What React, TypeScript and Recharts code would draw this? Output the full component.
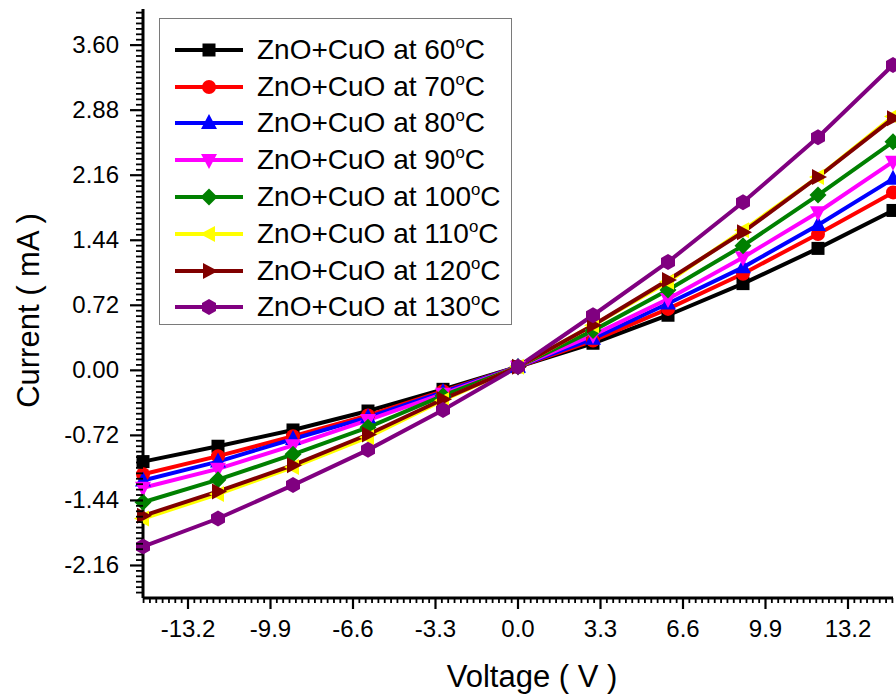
import React from 'react';
import { LineChart, Line, XAxis, YAxis, Legend } from 'recharts';

const VOLTAGE = [-15, -12, -9, -6, -3, 0, 3, 6, 9, 12, 15];

const I_60 = [-1.01, -0.84, -0.66, -0.45, -0.21, 0.04, 0.3, 0.61, 0.96, 1.35, 1.77];
const I_70 = [-1.15, -0.95, -0.73, -0.5, -0.23, 0.04, 0.33, 0.68, 1.07, 1.51, 1.97];
const I_80 = [-1.22, -1.01, -0.76, -0.52, -0.24, 0.04, 0.35, 0.74, 1.14, 1.61, 2.12];
const I_90 = [-1.3, -1.09, -0.83, -0.55, -0.26, 0.04, 0.39, 0.79, 1.25, 1.75, 2.31];
const I_100 = [-1.46, -1.21, -0.93, -0.63, -0.28, 0.04, 0.44, 0.89, 1.38, 1.94, 2.53];
const I_110 = [-1.64, -1.37, -1.07, -0.74, -0.33, 0.04, 0.5, 0.98, 1.55, 2.14, 2.81];
const I_120 = [-1.61, -1.34, -1.05, -0.71, -0.32, 0.04, 0.5, 1.0, 1.53, 2.14, 2.79];
const I_130 = [-1.95, -1.64, -1.27, -0.88, -0.44, 0.04, 0.61, 1.2, 1.86, 2.58, 3.38];

const X_MAJOR = [-13.2, -9.9, -6.6, -3.3, 0, 3.3, 6.6, 9.9, 13.2];
const Y_MAJOR = [-2.16, -1.44, -0.72, 0, 0.72, 1.44, 2.16, 2.88, 3.6];
const X_MINOR_PER_MAJOR = 13;
const Y_MINOR_PER_MAJOR = 12;

const SERIES = [
  { key: 't60', temp: '60', color: '#000000', shape: 'square', values: I_60 },
  { key: 't70', temp: '70', color: '#FF0000', shape: 'circle', values: I_70 },
  { key: 't80', temp: '80', color: '#0000FF', shape: 'up', values: I_80 },
  { key: 't90', temp: '90', color: '#FF00FF', shape: 'down', values: I_90 },
  { key: 't100', temp: '100', color: '#008000', shape: 'diamond', values: I_100 },
  { key: 't110', temp: '110', color: '#FFFF00', shape: 'left', values: I_110 },
  { key: 't120', temp: '120', color: '#800000', shape: 'right', values: I_120 },
  { key: 't130', temp: '130', color: '#800080', shape: 'hexagon', values: I_130 },
];

const data = VOLTAGE.map((v, i) => {
  const row: Record<string, number> = { v };
  SERIES.forEach((s) => (row[s.key] = s.values[i]));
  return row;
});

// minor + major tick positions
const buildTicks = (majors: number[], perMajor: number, min: number, max: number) => {
  const step = (majors[1] - majors[0]) / perMajor;
  const out: number[] = [];
  for (let k = Math.ceil(min / step); k * step <= max + 1e-9; k++) out.push(+(k * step).toFixed(6));
  return out;
};

const X_DOMAIN: [number, number] = [-15, 15];
const Y_DOMAIN: [number, number] = [-2.52, 4];
const xTicks = buildTicks(X_MAJOR, X_MINOR_PER_MAJOR, X_DOMAIN[0], X_DOMAIN[1]);
const yTicks = buildTicks(Y_MAJOR, Y_MINOR_PER_MAJOR, Y_DOMAIN[0], Y_DOMAIN[1]);

const isMajor = (val: number, majors: number[]) => majors.some((m) => Math.abs(m - val) < 1e-4);

const FONT = '"Liberation Sans", Arial, sans-serif';

const Marker = ({ cx, cy, shape, color }: any) => {
  if (cx == null || cy == null) return null;
  const poly = (pts: number[][]) => (
    <polygon points={pts.map(([dx, dy]) => `${cx + dx},${cy + dy}`).join(' ')} fill={color} />
  );
  switch (shape) {
    case 'square':
      return <rect x={cx - 6.5} y={cy - 6.5} width={13} height={13} fill={color} />;
    case 'circle':
      return <circle cx={cx} cy={cy} r={7} fill={color} />;
    case 'up':
      return poly([[0, -9], [8, 6], [-8, 6]]);
    case 'down':
      return poly([[0, 9], [8, -6], [-8, -6]]);
    case 'diamond':
      return poly([[0, -8.5], [8.5, 0], [0, 8.5], [-8.5, 0]]);
    case 'left':
      return poly([[-9, 0], [6, -8], [6, 8]]);
    case 'right':
      return poly([[9, 0], [-6, -8], [-6, 8]]);
    default:
      return poly([[0, -8], [7, -4], [7, 4], [0, 8], [-7, 4], [-7, -4]]);
  }
};

const XTick = ({ x, y, payload }: any) => {
  const major = isMajor(payload.value, X_MAJOR);
  return (
    <g>
      <line x1={x} y1={y} x2={x} y2={y + (major ? 11 : 5)} stroke="#000" strokeWidth={major ? 2.2 : 1.8} />
      {major && (
        <text x={x} y={y + 39} textAnchor="middle" fontSize={24} fontFamily={FONT} fill="#000">
          {payload.value.toFixed(1)}
        </text>
      )}
    </g>
  );
};

const YTick = ({ x, y, payload }: any) => {
  const major = isMajor(payload.value, Y_MAJOR);
  return (
    <g>
      <line x1={x} y1={y} x2={x - (major ? 13 : 7)} y2={y} stroke="#000" strokeWidth={major ? 2.2 : 1.8} />
      {major && (
        <text x={x - 24} y={y + 8} textAnchor="end" fontSize={24} fontFamily={FONT} fill="#000">
          {payload.value.toFixed(2)}
        </text>
      )}
    </g>
  );
};

const LegendBox = () => (
  <div
    style={{
      width: 353,
      height: 307,
      boxSizing: 'border-box',
      border: '1.5px solid #7a7a7a',
      background: '#fff',
      paddingTop: 12.5,
      fontFamily: FONT,
    }}
  >
    {SERIES.map((s) => (
      <div key={s.key} style={{ height: 36.8, display: 'flex', alignItems: 'center', lineHeight: 1 }}>
        <svg width={84} height={24} style={{ flex: 'none' }}>
          <line x1={15} y1={12} x2={83} y2={12} stroke={s.color} strokeWidth={4} />
          <Marker cx={49} cy={12} shape={s.shape} color={s.color} />
        </svg>
        <span style={{ marginLeft: 13, fontSize: 28, color: '#000', whiteSpace: 'nowrap' }}>
          ZnO+CuO at {s.temp}
          <sup style={{ fontSize: '0.6em', verticalAlign: '11px', lineHeight: 0 }}>o</sup>C
        </span>
      </div>
    ))}
  </div>
);

export default function App() {
  return (
    <div style={{ position: 'absolute', left: 0, top: 0, width: 896, height: 695 }}>
      <LineChart width={896} height={695} data={data} margin={{ top: 9, right: 3, left: 0, bottom: 0 }}>
        <XAxis
          dataKey="v"
          type="number"
          domain={X_DOMAIN}
          ticks={xTicks}
          interval={0}
          tickSize={0}
          tickMargin={0}
          tickLine={false}
          tick={<XTick />}
          height={97}
          axisLine={{ stroke: '#000', strokeWidth: 3 }}
          label={(props: any) => {
            const vb = props.viewBox;
            return (
              <text
                x={vb.x + vb.width / 2 + 14}
                y={vb.y + 89}
                textAnchor="middle"
                fontSize={31}
                fontFamily={FONT}
                fill="#000"
              >
                Voltage ( V )
              </text>
            );
          }}
        />
        <XAxis
          xAxisId="top"
          orientation="top"
          type="number"
          domain={[0, 1]}
          height={0}
          tick={false}
          tickLine={false}
          axisLine={{ stroke: '#222', strokeWidth: 1.5 }}
        />
        <YAxis
          type="number"
          domain={Y_DOMAIN}
          ticks={yTicks}
          interval={0}
          allowDataOverflow
          tickSize={0}
          tickMargin={0}
          tickLine={false}
          tick={<YTick />}
          width={143}
          axisLine={{ stroke: '#000', strokeWidth: 3 }}
          label={(props: any) => {
            const vb = props.viewBox;
            const cx = vb.x + 39;
            const cy = vb.y + vb.height / 2 + 7;
            return (
              <text
                x={cx}
                y={cy}
                transform={`rotate(-90, ${cx}, ${cy})`}
                textAnchor="middle"
                fontSize={31}
                fontFamily={FONT}
                fill="#000"
              >
                Current ( mA )
              </text>
            );
          }}
        />
        <YAxis
          yAxisId="right"
          orientation="right"
          type="number"
          domain={[0, 1]}
          width={0}
          tick={false}
          tickLine={false}
          axisLine={{ stroke: '#222', strokeWidth: 1.5 }}
        />
        <Legend
          layout="vertical"
          align="center"
          verticalAlign="middle"
          wrapperStyle={{ left: 159, top: 18, width: 353, height: 307 }}
          content={() => <LegendBox />}
        />
        {SERIES.map((s) => (
          <Line
            key={s.key}
            dataKey={s.key}
            type="linear"
            stroke={s.color}
            strokeWidth={4}
            isAnimationActive={false}
            activeDot={false}
            dot={(p: any) => (
              <Marker key={`${s.key}-${p.index}`} cx={p.cx} cy={p.cy} shape={s.shape} color={s.color} />
            )}
          />
        ))}
      </LineChart>
    </div>
  );
}
